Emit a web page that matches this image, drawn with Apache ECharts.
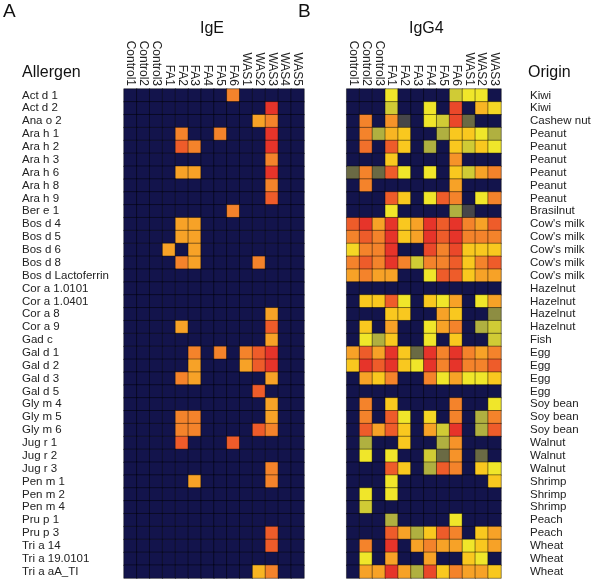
<!DOCTYPE html>
<html>
<head>
<meta charset="utf-8">
<script src="https://cdn.jsdelivr.net/npm/echarts@6/dist/echarts.min.js"></script>
<style>
  html, body { margin: 0; padding: 0; background: #fff; }
  #chart { width: 600px; height: 579px; }
</style>
</head>
<body>
<div id="chart"></div>
<script>
const allergens = ['Act d 1', 'Act d 2', 'Ana o 2', 'Ara h 1', 'Ara h 2', 'Ara h 3', 'Ara h 6', 'Ara h 8', 'Ara h 9',
  'Ber e 1', 'Bos d 4', 'Bos d 5', 'Bos d 6', 'Bos d 8', 'Bos d Lactoferrin', 'Cor a 1.0101', 'Cor a 1.0401',
  'Cor a 8', 'Cor a 9', 'Gad c', 'Gal d 1', 'Gal d 2', 'Gal d 3', 'Gal d 5', 'Gly m 4', 'Gly m 5', 'Gly m 6',
  'Jug r 1', 'Jug r 2', 'Jug r 3', 'Pen m 1', 'Pen m 2', 'Pen m 4', 'Pru p 1', 'Pru p 3', 'Tri a 14',
  'Tri a 19.0101', 'Tri a aA_TI']

const origins = ['Kiwi', 'Kiwi', 'Cashew nut', 'Peanut', 'Peanut', 'Peanut', 'Peanut', 'Peanut', 'Peanut',
  'Brasilnut', "Cow's milk", "Cow's milk", "Cow's milk", "Cow's milk", "Cow's milk", 'Hazelnut', 'Hazelnut',
  'Hazelnut', 'Hazelnut', 'Fish', 'Egg', 'Egg', 'Egg', 'Egg', 'Soy bean', 'Soy bean', 'Soy bean',
  'Walnut', 'Walnut', 'Walnut', 'Shrimp', 'Shrimp', 'Shrimp', 'Peach', 'Peach', 'Wheat', 'Wheat', 'Wheat']

const igeSamples = ['Control1', 'Control2', 'Control3', 'FA1', 'FA2', 'FA3', 'FA4', 'FA5', 'FA6',
  'WAS1', 'WAS2', 'WAS3', 'WAS4', 'WAS5']
const igg4Samples = ['Control1', 'Control2', 'Control3', 'FA1', 'FA2', 'FA3', 'FA4', 'FA5', 'FA6',
  'WAS1', 'WAS2', 'WAS3']

// signal levels: 0 = none ... 9 = strongest
const igeLevels = [
  [0,0,0,0,0,0,0,0,7,0,0,0,0,0],
  [0,0,0,0,0,0,0,0,0,0,0,9,0,0],
  [0,0,0,0,0,0,0,0,0,0,6,7,0,0],
  [0,0,0,0,7,0,0,7,0,0,0,9,0,0],
  [0,0,0,0,8,7,0,0,0,0,0,9,0,0],
  [0,0,0,0,0,0,0,0,0,0,0,7,0,0],
  [0,0,0,0,6,6,0,0,0,0,0,9,0,0],
  [0,0,0,0,0,0,0,0,0,0,0,7,0,0],
  [0,0,0,0,0,0,0,0,0,0,0,8,0,0],
  [0,0,0,0,0,0,0,0,7,0,0,0,0,0],
  [0,0,0,0,6,6,0,0,0,0,0,0,0,0],
  [0,0,0,0,6,6,0,0,0,0,0,0,0,0],
  [0,0,0,6,0,6,0,0,0,0,0,0,0,0],
  [0,0,0,0,7,6,0,0,0,0,7,0,0,0],
  [0,0,0,0,0,0,0,0,0,0,0,0,0,0],
  [0,0,0,0,0,0,0,0,0,0,0,0,0,0],
  [0,0,0,0,0,0,0,0,0,0,0,0,0,0],
  [0,0,0,0,0,0,0,0,0,0,0,6,0,0],
  [0,0,0,0,6,0,0,0,0,0,0,8,0,0],
  [0,0,0,0,0,0,0,0,0,0,0,6,0,0],
  [0,0,0,0,0,7,0,7,0,7,8,9,0,0],
  [0,0,0,0,0,6,0,0,0,6,8,9,0,0],
  [0,0,0,0,7,6,0,0,0,0,0,6,0,0],
  [0,0,0,0,0,0,0,0,0,0,8,0,0,0],
  [0,0,0,0,0,0,0,0,0,0,0,6,0,0],
  [0,0,0,0,7,7,0,0,0,0,0,6,0,0],
  [0,0,0,0,7,7,0,0,0,0,8,7,0,0],
  [0,0,0,0,8,0,0,0,8,0,0,0,0,0],
  [0,0,0,0,0,0,0,0,0,0,0,0,0,0],
  [0,0,0,0,0,0,0,0,0,0,0,7,0,0],
  [0,0,0,0,0,6,0,0,0,0,0,7,0,0],
  [0,0,0,0,0,0,0,0,0,0,0,0,0,0],
  [0,0,0,0,0,0,0,0,0,0,0,0,0,0],
  [0,0,0,0,0,0,0,0,0,0,0,0,0,0],
  [0,0,0,0,0,0,0,0,0,0,0,8,0,0],
  [0,0,0,0,0,0,0,0,0,0,0,8,0,0],
  [0,0,0,0,0,0,0,0,0,0,0,0,0,0],
  [0,0,0,0,0,0,0,0,0,0,5.5,7,0,0]
]

const igg4Levels = [
  [0,0,0,4,0,0,0,0,3.5,4,4,0],
  [0,0,0,3.5,0,0,4,0,8.5,0,5.5,4.5],
  [0,7,0,6.5,1,0,4,3.5,8.5,2,0,0],
  [0,7,3,5.5,5,0,0,3,5,5,4,3],
  [0,7.5,0,8,5,0,3,0,5,3.5,5,4],
  [0,0,0,5,0,0,0,0,6.5,0,0,0],
  [2,7,2,8,4,0,4,0,5,3.5,6,7],
  [0,7,0,0,0,0,0,0,6,0,0,0],
  [0,0,0,8,5,0,4,8,7,0,4,7],
  [0,0,0,4,0,0,0,0,3,1,0,0],
  [8,9,6,9,5,6,9,8,9,7,6,8],
  [7,8,7,9,5,6,9,8,9,7,7,7],
  [4.5,7,7,9,0,0,8.5,7,8.5,5,5,5],
  [7,8,7,9,7,3.5,7,7,8,5,7,8],
  [6,7,6,6,0,0,4,8,8,5,6,6],
  [0,0,0,0,0,0,0,0,0,0,0,0],
  [0,5,5,8,4,0,5,4,6,0,4,6],
  [0,0,0,5,5,0,0,6,5,0,0,2.5],
  [0,5,0,6,0,0,4,6,7,0,3,3.5],
  [0,4,3,5,0,0,4,0,5,0,0,3.5],
  [6,8,6,9,5,2,9,7,9,7,6,7],
  [5,9,8,9,5,4,9,7,9,7,7,8],
  [0,6,5,7,0,0,7,4,6,4,4,5],
  [0,0,0,0,0,0,0,0,0,0,0,0],
  [0,7,0,5,0,0,0,0,7,0,0,4],
  [0,7,0,8,4,0,4.5,0,7,0,3,7],
  [0,8,6,8,5,0,6,3.5,9,0,3,8],
  [0,3,0,0,5,0,0,3,6.5,0,0,0],
  [0,4,0,4,0,0,3.5,2,6.5,0,2,0],
  [0,0,0,8,5,0,3,8,7,0,5,4],
  [0,0,0,4,0,0,0,0,0,0,0,5],
  [0,4,0,4,0,0,0,0,0,0,0,0],
  [0,3.5,0,0,0,0,0,0,0,0,0,0],
  [0,0,0,3,0,0,0,0,4,0,0,0],
  [0,0,0,8,6,3,5,8,7,0,5,6],
  [0,7,0,9,0,6,7,6,6,4,5,6],
  [0,4,0,6,0,0,6,0,0,5,4,0],
  [0,6,6,9,6,3,8.5,5,7,6,6,5]
]

const levelColors = ['#13144c', '#46464a', '#6a6a44', '#b0b040', '#f0e62a', '#f9c81f', '#f7a227', '#f4832b', '#ee5c2a', '#e6342a']

function toCells(levels) {
  const cells = []
  levels.forEach((row, y) => {
    row.forEach((v, x) => cells.push([x, y, v]))
  })
  return cells
}

const chart = echarts.init(document.getElementById('chart'))
const font = 'Liberation Sans, Arial, Helvetica, sans-serif'
const gridTop = 89
const rowH = 12.87
const gridHeight = rowH * allergens.length

const option = {
  animation: false,
  textStyle: { fontFamily: font },
  graphic: [
    { type: 'text', left: 3, top: 2, style: { text: 'A', font: '19px ' + font, fill: '#111' } },
    { type: 'text', left: 298, top: 2, style: { text: 'B', font: '19px ' + font, fill: '#111' } },
    { type: 'text', left: 200, top: 21, style: { text: 'IgE', font: '16px ' + font, fill: '#111' } },
    { type: 'text', left: 409, top: 21, style: { text: 'IgG4', font: '16px ' + font, fill: '#111' } },
    { type: 'text', left: 22, top: 65, style: { text: 'Allergen', font: '16px ' + font, fill: '#111' } },
    { type: 'text', left: 528, top: 65, style: { text: 'Origin', font: '16px ' + font, fill: '#111' } }
  ],
  grid: [
    { left: 124, top: gridTop, width: 180, height: gridHeight },
    { left: 346.7, top: gridTop, width: 154.3, height: gridHeight }
  ],
  xAxis: [
    {
      type: 'category', gridIndex: 0, position: 'top', data: igeSamples,
      axisLine: { show: false }, axisTick: { show: false }, splitLine: { show: false },
      axisLabel: { rotate: 90, interval: 0, margin: 3, fontSize: 12, color: '#222', fontFamily: font }
    },
    {
      type: 'category', gridIndex: 1, position: 'top', data: igg4Samples,
      axisLine: { show: false }, axisTick: { show: false }, splitLine: { show: false },
      axisLabel: { rotate: 90, interval: 0, margin: 3, fontSize: 12, color: '#222', fontFamily: font }
    }
  ],
  yAxis: [
    {
      type: 'category', gridIndex: 0, inverse: true, data: allergens,
      axisLine: { show: false }, axisTick: { show: false }, splitLine: { show: false },
      axisLabel: { interval: 0, align: 'left', margin: 102, fontSize: 11.5, color: '#222', fontFamily: font }
    },
    {
      type: 'category', gridIndex: 1, inverse: true, position: 'right', data: allergens,
      axisLine: { show: false }, axisTick: { show: false }, splitLine: { show: false },
      axisLabel: {
        interval: 0, margin: 29, fontSize: 11.5, color: '#222', fontFamily: font,
        formatter: (v, i) => origins[i]
      }
    }
  ],
  visualMap: {
    show: false,
    type: 'continuous',
    min: 0,
    max: 9,
    seriesIndex: [0, 1],
    inRange: { color: levelColors }
  },
  series: [
    {
      type: 'heatmap', xAxisIndex: 0, yAxisIndex: 0,
      data: toCells(igeLevels),
      itemStyle: { borderColor: 'rgba(0,0,0,0.45)', borderWidth: 1 }
    },
    {
      type: 'heatmap', xAxisIndex: 1, yAxisIndex: 1,
      data: toCells(igg4Levels),
      itemStyle: { borderColor: 'rgba(0,0,0,0.45)', borderWidth: 1 }
    }
  ]
}

chart.setOption(option)
</script>
</body>
</html>
